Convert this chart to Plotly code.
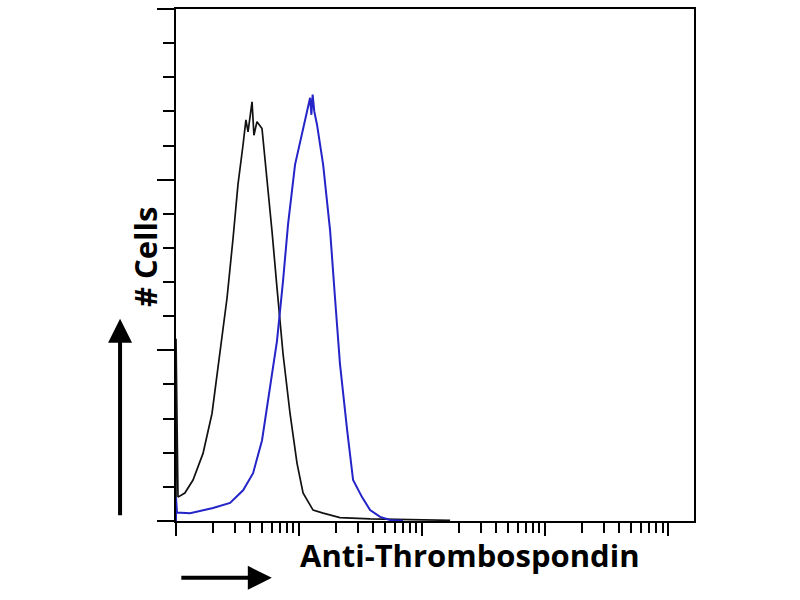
import plotly.graph_objects as go

# isotype control (black) - intensity vs cell count
ctrl_x = [1.0, 1.0, 1.038, 1.18, 1.375, 1.658, 1.962, 2.28, 2.60, 2.91, 3.19, 3.51,
          3.70, 3.85, 4.00, 4.15, 4.30, 4.55, 5.00, 5.49, 6.03, 6.62, 7.41, 8.45,
          9.63, 10.78, 13.0, 15.7, 21.5, 37.8, 66.2, 105.7, 169.0]
ctrl_y = [0, 53.4, 7.0, 8.2, 12.0, 19.8, 31.5, 49.0, 65.4, 82.9, 98.6, 110.3,
          117.5, 114.0, 118.0, 122.8, 113.0, 117.0, 115.0, 100.4, 84.9, 68.3, 49.0, 31.5,
          16.9, 8.2, 3.2, 2.3, 1.0, 0.6, 0.5, 0.4, 0.2]

# Anti-Thrombospondin stained (blue)
stain_x = [1.0, 1.0, 1.019, 1.18, 1.30, 2.00, 2.75, 3.51, 4.23, 5.00, 5.81, 6.62,
           7.41, 8.14, 9.28, 10.58, 11.6, 12.3, 12.6, 12.9, 13.3, 14.0, 15.7, 17.9,
           19.6, 21.5, 24.6, 27.5, 32.5, 37.8, 45.6, 54.9, 70.0]
stain_y = [0, 7.0, 2.5, 2.3, 2.3, 3.8, 5.3, 9.0, 14.0, 23.6, 39.1, 52.8,
           70.3, 86.9, 104.4, 114.0, 119.9, 124.0, 119.0, 124.9, 120.0, 116.1, 104.4, 84.9,
           65.4, 46.1, 26.6, 12.0, 7.0, 3.2, 1.2, 0.3, 0.1]

x_title = "Anti-Thrombospondin"
y_title = "# Cells"

fig = go.Figure()
fig.add_trace(go.Scatter(x=ctrl_x, y=ctrl_y, mode="lines",
                         line=dict(color="#111111", width=1.7), showlegend=False))
fig.add_trace(go.Scatter(x=stain_x, y=stain_y, mode="lines",
                         line=dict(color="#2424c8", width=2), showlegend=False))

fig.update_xaxes(
    type="log", range=[0, 4.21], showgrid=False, zeroline=False,
    showline=True, linecolor="black", linewidth=2, mirror=True,
    ticks="outside", ticklen=13, tickwidth=2, tickcolor="black", dtick=1,
    showticklabels=False,
    minor=dict(ticks="outside", ticklen=10, tickwidth=2, tickcolor="black", dtick="D1", showgrid=False),
)
fig.update_yaxes(
    range=[0, 150], showgrid=False, zeroline=False,
    showline=True, linecolor="black", linewidth=2, mirror=True,
    ticks="outside", ticklen=17, tickwidth=2, tickcolor="black", dtick=50,
    showticklabels=False,
    minor=dict(ticks="outside", ticklen=11, tickwidth=2, tickcolor="black", dtick=10, showgrid=False),
)

# axis arrows and titles
fig.add_annotation(x=-0.108, y=0.395, xref="paper", yref="paper", ax=0, ay=198,
                   text="", showarrow=True, arrowhead=2, arrowsize=1.2, arrowwidth=4, arrowcolor="black")
fig.add_annotation(x=0.185, y=-0.111, xref="paper", yref="paper", ax=-92, ay=0,
                   text="", showarrow=True, arrowhead=2, arrowsize=1.2, arrowwidth=4, arrowcolor="black")
fig.add_annotation(x=(470 - 176) / 518, y=(521 - 578) / 514, xref="paper", yref="paper",
                   text="<b>" + x_title + "</b>", showarrow=False,
                   font=dict(family="Open Sans", size=31, color="black"))
fig.add_annotation(x=(122 - 176) / 518, y=(521 - 256) / 514, xref="paper", yref="paper",
                   text="<b>" + y_title + "</b>", showarrow=False, textangle=-90,
                   font=dict(family="Open Sans", size=31, color="black"))

fig.update_layout(
    width=800, height=600,
    margin=dict(l=176, r=106, t=7, b=79),
    paper_bgcolor="white", plot_bgcolor="white",
)
# drop the default page margin so the figure sits at the window's corner
fig.write_html("out.html", config={"displayModeBar": False},
               post_script="document.body.style.margin='0';")
